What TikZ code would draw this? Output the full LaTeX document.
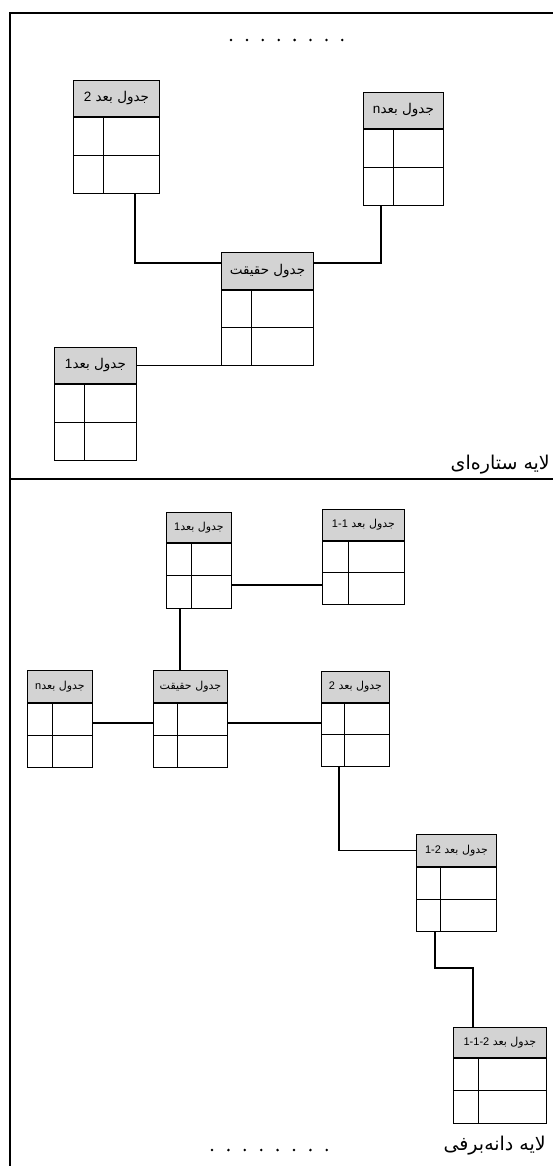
\documentclass[tikz,border=0pt]{standalone}
\usepackage{fontspec}
\usetikzlibrary{positioning,calc}
\TeXXeTstate=1
\newfontfamily\arabicfont[Script=Arabic]{DejaVu Sans}
\newfontfamily\latinfont{Liberation Sans}
\definecolor{headgray}{RGB}{211,211,211}

% dimension table: name, x, y, width, head height, row height, column offset, label
\newcommand{\dimtable}[8]{%
  \node[headbox, minimum width=#4pt, minimum height=#5pt, anchor=north west] (#1) at (#2,#3) {#8};
  \node[bodybox, minimum width=#4pt, minimum height=2*#6pt, anchor=north] (#1b) at (#1.south) {};
  \draw[cellline] (#1b.west) -- (#1b.east);
  \draw[cellline] ([xshift=#7pt]#1b.north west) -- ([xshift=#7pt]#1b.south west);
}
\newcommand{\fa}[2]{\beginR #1\beginL{\latinfont #2}\endL\endR}

\begin{document}
\begin{tikzpicture}[x=1pt,y=-1pt,
    headbox/.style={draw, fill=headgray, line width=0.9pt, inner sep=0pt,
      font=\arabicfont\fontsize{13.5}{15}\selectfont},
    bodybox/.style={draw, line width=0.9pt, inner sep=0pt},
    cellline/.style={line width=0.9pt},
    link/.style={line width=1.6pt},
    frame/.style={line width=2pt},
    layerlabel/.style={font=\arabicfont\fontsize{19}{21}\selectfont, inner sep=0pt}]

    \useasboundingbox (0,0) rectangle (553,1166);

    % Draw outer frame and divider
    \draw[frame] (10,1166) -- (10,13) -- (553,13);
    \draw[frame] (10,479) -- (553,479);

    % Star layer
    \foreach \i in {0,...,7}
        \fill (231+15.9*\i,40) circle (1.4pt);

    \dimtable{d2}{73}{80}{86}{36}{38}{30}{\fa{جدول بعد }{2}}
    \dimtable{dn}{363}{92}{80}{36}{38}{30}{\fa{جدول بعد}{n}}
    \dimtable{fact}{221}{252}{92}{37}{37.5}{30}{\beginR جدول حقیقت\endR}
    \dimtable{d1}{54}{347}{82}{36}{38}{30}{\fa{جدول بعد}{1}}

    \coordinate (j1) at (135,263);
    \coordinate (j2) at (381,263);
    \draw[link] (d2b.south -| j1) |- (fact.west |- j1);
    \draw[link] (dnb.south -| j2) |- (fact.east |- j2);
    \draw[link] (d1.east) -- (d1.east -| factb.west);

    \node[layerlabel, anchor=east] (starlabel) at (550,465) {\beginR لایه ستاره‌ای\endR};

    % Snowflake layer
    \begin{scope}[headbox/.append style={font=\arabicfont\fontsize{11}{13}\selectfont}]
    \dimtable{s1}{166}{512}{65}{30}{32.5}{25}{\fa{جدول بعد}{1}}
    \dimtable{s11}{322}{509}{82}{31}{31.5}{26}{\fa{جدول بعد }{1-1}}
    \dimtable{sfact}{153}{670}{74}{32}{32}{24}{\beginR جدول حقیقت\endR}
    \dimtable{sn}{27}{670}{65}{32}{32}{25}{\fa{جدول بعد}{n}}
    \dimtable{s2}{321}{671}{68}{31}{31.5}{23}{\fa{جدول بعد }{2}}
    \dimtable{s21}{416}{834}{80}{32}{32}{24}{\fa{جدول بعد }{1-2}}
    \dimtable{s211}{453}{1027}{93}{30}{32.5}{25}{\fa{جدول بعد }{1-1-2}}
    \end{scope}

    \coordinate (j4) at (0,585);
    \coordinate (j5) at (180,0);
    \coordinate (j6) at (0,723);
    \coordinate (j7) at (339,0);
    \coordinate (j8) at (435,0);
    \coordinate (j9) at (473,968);
    \draw[link] (s1b.east |- j4) -- (s11b.west |- j4);
    \draw[link] (s1b.south -| j5) -- (sfact.north -| j5);
    \draw[link] (snb.east |- j6) -- (sfactb.west |- j6);
    \draw[link] (sfactb.east |- j6) -- (s2b.west |- j6);
    \draw[link] (s2b.south -| j7) |- (s21.west);
    \draw[link] (s21b.south -| j8) |- (j9) -- (s211.north -| j9);

    \foreach \i in {0,...,7}
        \fill (212+16.4*\i,1150) circle (1.4pt);

    \node[layerlabel, anchor=east] (snowlabel) at (546,1146) {\beginR لایه دانه‌برفی\endR};
\end{tikzpicture}
\end{document}
